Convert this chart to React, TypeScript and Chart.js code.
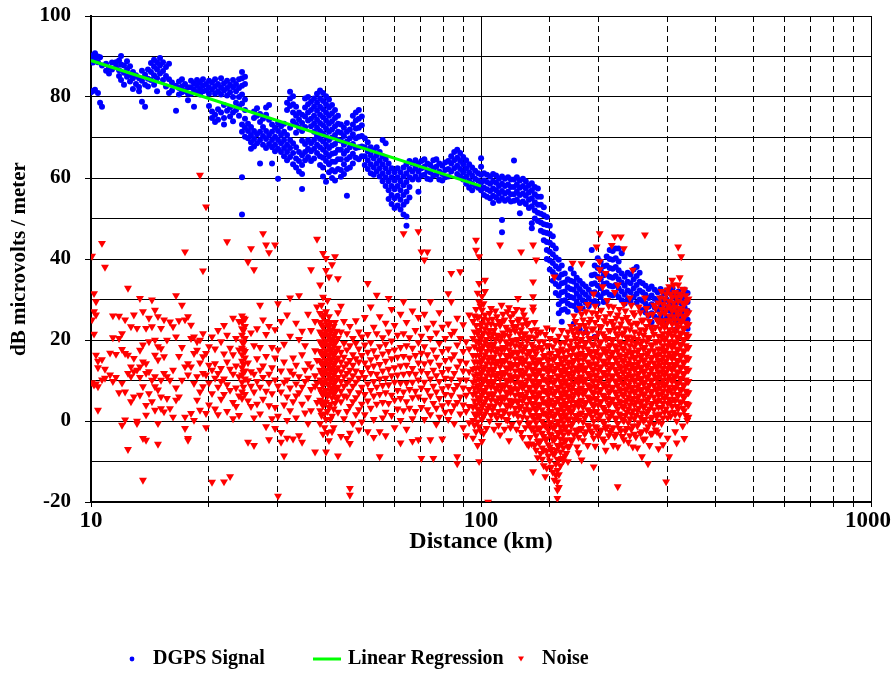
import { useEffect, useRef } from 'react';
import { Chart, registerables } from 'chart.js';

Chart.register(...registerables);

// ---- Data ----
// Each entry: [distance km, [dB values at that distance]]
const signalColumns: [number, number[]][] = [
  [10.0, [81.2, 89.2]], [10.12, [81.5, 90.3, 88.5]], [10.24, [81.8, 90.8, 89.5]], [10.42, [90, 88.6, 81]],
  [10.55, [78.6, 89.8]], [10.67, [77.6, 87.8]], [10.93, [88.2, 86.5]], [11.12, [87.2, 85.8]],
  [11.32, [88.5, 86.8]], [11.59, [87.5, 88.6]], [11.8, [89, 86.6, 85.2]], [11.94, [90.1, 88, 84.2]],
  [12.15, [87.8, 86, 83]], [12.37, [88.8, 86.8, 85]], [12.59, [87.6, 85.5, 83.8]], [12.81, [86.2, 84.6, 82]],
  [13.04, [85.4, 83.2]], [13.28, [84.6, 82.5, 81.4]], [13.51, [86.5, 84, 78.8]], [13.76, [85.5, 83, 77.6]],
  [14.0, [86.8, 84.5, 82.6]], [14.25, [88.4, 86.2, 84.2]], [14.51, [89.2, 87.5, 85.4, 83]], [14.77, [88.6, 86.8, 84.6, 81.4]],
  [15.03, [89.6, 87.8, 85.8]], [15.3, [88.6, 86.4, 84.2]], [15.57, [87.4, 85.2, 82.6]], [15.85, [88.2, 84.4, 81]],
  [16.13, [83.6, 81.6]], [16.52, [76.6, 82.8]], [16.81, [83.8, 82.2, 80.6]], [17.11, [84.4, 82.6, 81.2]],
  [17.42, [83.2, 81.5]], [17.73, [82.4, 80.8, 79.2]], [18.05, [84, 82.4, 80.8]], [18.37, [83.4, 81.8, 77.6]],
  [18.7, [84.2, 82.8, 81.2]], [19.03, [83.6, 82, 80.6]], [19.37, [84.4, 82.8, 81.4]], [19.72, [83.2, 81.6]],
  [20.07, [84, 82.4, 80.8, 77.8]], [20.43, [83.6, 81.8, 76.4, 74.8]], [20.8, [84.4, 82.6, 80.8, 75.6, 73.8]],
  [21.17, [83.2, 81.4, 77, 74.4]], [21.55, [84.6, 82.4, 80.6, 76.2]], [21.93, [83.4, 81.6, 78, 74.8, 73.2]],
  [22.33, [84, 82.2, 80.4, 76.6]], [22.73, [83, 81.2, 77.4, 75.2]], [23.13, [84.2, 82.4, 80, 76.2, 74]],
  [23.54, [83.2, 81.4, 78.6, 76.8]], [23.96, [84.4, 82.2, 80, 77.6, 75.4]],
  [24.39, [86.2, 84.6, 82.8, 80.6, 78.4, 73.2, 71.4, 60.2, 51]], [24.82, [85, 83.2, 79.4, 76.8, 74.6, 72.4, 70.2]],
  [25.27, [73.4, 71.6, 69.8]], [25.72, [72.6, 70.6, 68.8, 67.2]], [26.18, [76.4, 74.8, 71.6, 69.6, 67.8]],
  [26.65, [77.2, 75.4, 70.8, 68.6]], [27.13, [75.8, 73.8, 71.4, 69.4, 63.6]], [27.61, [74.6, 72.6, 70.4, 68.2]],
  [28.11, [77.4, 75.6, 71.6, 69.6, 67.4]], [28.61, [78, 74.4, 70.6, 68.4]], [29.12, [73.2, 71.4, 69.4, 67.6, 63.6]],
  [29.64, [72.4, 70.2, 68.2, 66.6]], [30.17, [73.6, 71.6, 69.4, 67.2, 59.8]], [30.71, [72.8, 70.6, 68.6, 66.4]],
  [31.26, [73.4, 71.4, 69.4, 67.4, 65.4]], [31.82, [78.6, 76.8, 70.6, 68.2, 66.4, 64.4]],
  [32.39, [81.3, 79.6, 77.8, 72.4, 69.4, 67.4, 65.2]], [32.97, [80.2, 78.2, 76.2, 74, 68.6, 66.2, 63.4]],
  [33.56, [77.6, 75.4, 73.2, 71.2, 67.6, 64.8, 62.6]], [34.15, [76.2, 74.4, 72.4, 66.4, 64.2, 61.6]],
  [34.77, [75.6, 73.6, 71.6, 69.2, 65.6, 63.2, 61, 57.3]], [35.39, [79.6, 77.4, 75.2, 72.6, 68.4, 66.4, 64.4]],
  [36.02, [80, 78.2, 76.2, 74.2, 69.4, 67.2, 65.2]], [36.66, [78.8, 76.8, 74.6, 72.8, 68.6, 66.6, 64.2]],
  [37.32, [79.6, 77.6, 75.4, 73.4, 71.4, 69.4, 67.2, 64.8]], [37.98, [80.8, 78.6, 76.6, 74.4, 72.4, 70.4, 68.2, 66.2]],
  [38.66, [81.6, 79.6, 77.6, 75.6, 73.6, 71.6, 69.6, 67.6, 65.4, 63.2]],
  [39.35, [81, 79, 77, 75, 73, 71, 69, 67, 65, 62.6, 60.4]],
  [40.05, [80.2, 78.2, 76.2, 74.2, 72.2, 70.2, 68.2, 66.2, 64.2, 59.1]],
  [40.76, [79.4, 77.4, 75.4, 73.4, 71.4, 69.4, 67.4, 65.4, 63.4, 61.4]],
  [41.49, [78, 76, 74, 72, 70, 68, 66, 64, 62, 60]], [42.23, [76.8, 74.8, 72.8, 70.6, 68.4, 66.2, 64, 61.6, 59.4]],
  [42.98, [75.4, 73.4, 71.4, 69.4, 67, 64.6, 62.2]], [43.74, [73.2, 71.2, 69.2, 67, 64.6, 62, 60.3]],
  [44.52, [72.4, 70.4, 68.2, 66, 63.4, 61]], [45.31, [73.6, 71.4, 69, 66.8, 64.6, 62.2, 55.6]],
  [46.11, [72, 69.8, 67.6, 65.2, 62.6]], [46.93, [75.4, 73.2, 70.8, 68.4, 66, 63.6]],
  [47.76, [76.2, 74.2, 72.2, 69.8, 67.4, 65]], [48.61, [76.8, 74.6, 72.4, 70.2, 67.6, 64.6]],
  [49.47, [75.2, 73, 70.4, 67.8, 65.4]], [50.35, [69.8, 67.6, 65.4, 63.2]], [51.24, [68.8, 66.6, 64.4, 62.2]],
  [52.15, [67.6, 65.6, 63.4, 61.2]], [53.08, [66.8, 64.8, 62.6, 60.8]], [54.02, [67.6, 65.6, 63.6, 61.6]],
  [54.98, [66.4, 64.4, 62.4, 60.4]], [55.95, [69.4, 65.4, 63.4, 61.2, 59.2]], [56.95, [68.6, 64.6, 62.4, 60.2, 58]],
  [57.96, [63.6, 61.4, 59.2, 57, 54.8]], [58.99, [62.4, 60.2, 58, 55.8, 53.6]], [60.03, [61.4, 59.4, 57.2, 55, 52.6]],
  [61.1, [62.4, 60.2, 58, 55.6, 53.2]], [62.18, [61.4, 59.2, 57, 54.6, 52.2]], [63.29, [62.6, 60.4, 58.2, 55.8, 53.4, 51]],
  [64.41, [63.4, 61.2, 59, 56.6, 54.2, 50.5, 48.2]], [65.55, [64.2, 62.2, 60.2, 57.8, 55.2]], [66.72, [63.6, 61.6, 59.6]],
  [67.9, [64.4, 62.4, 60.4]], [69.11, [63.6, 61.6, 59.6, 56.6]], [70.34, [64.2, 62.4, 60.6]], [71.59, [64.6, 62.8, 60.8]],
  [72.86, [63.6, 61.8, 59.8]], [74.15, [63.2, 61.4, 59.6]], [75.47, [64.4, 62.4, 60.6]], [76.81, [64.6, 62.8, 60.8]],
  [78.18, [63.6, 61.6, 59.6]], [79.57, [63, 61, 59.4]], [80.98, [63.8, 62, 60.2]], [82.42, [64.2, 62.2, 60.4]],
  [83.88, [65.4, 63.6, 61.6]], [85.38, [66.4, 64.4, 62.4]], [86.89, [67, 65, 63, 61]], [88.44, [66.2, 64.2, 62.2, 60.4]],
  [90.01, [65.2, 63.4, 61.4, 59.6]], [91.61, [64.4, 62.4, 60.4, 58.6]], [93.24, [63.4, 61.4, 59.4, 57.6]],
  [94.9, [62.6, 60.6, 58.6, 57]], [96.58, [61.8, 59.8, 58]], [98.3, [61.2, 59.4, 57.6]],
  [100.05, [64.9, 62.8, 60.8, 58.8, 57]], [101.8, [61.2, 59.4, 57.6, 55.8]], [103.6, [60.8, 59, 57.2, 55.4]],
  [105.5, [60.4, 58.6, 56.8, 55]], [107.4, [61, 59.2, 57.4, 55.6, 53.8]], [109.3, [60.6, 58.8, 57, 55.2]],
  [111.2, [59.8, 58, 56.2, 54.4]], [113.2, [60.4, 58.6, 56.8, 55, 49.6, 46.6]], [115.2, [59.8, 58, 56.2, 54.4]],
  [117.3, [60.2, 58.4, 56.6, 54.8]], [119.3, [59.6, 57.8, 56, 54.2]], [121.5, [64.3, 59.6, 57.8, 56, 54.4]],
  [123.6, [60.2, 58.4, 56.6, 54.6]], [125.8, [59.4, 57.6, 55.8, 53.8, 51.3]], [128.1, [59.8, 58, 56.2, 54.2]],
  [130.3, [59.2, 57.4, 55.6, 53.6]], [132.7, [58.2, 56.4, 54.6, 52.6]], [135, [58.7, 57, 55, 53, 48.8, 47.6]],
  [137.4, [57.8, 56, 54, 52, 50]], [139.9, [57.4, 55.4, 53.4, 51.4, 49.4]], [142.4, [55.4, 53.4, 51.2, 49, 47]],
  [144.9, [52.8, 50.8, 48.6, 46.6, 44.6]], [147.5, [50.4, 48.4, 46.4, 44.2, 42.2, 40]],
  [150.1, [48.2, 46.2, 44, 41.8, 39.6, 37.4]], [152.8, [45.6, 43.4, 41.2, 39, 36.8, 34.6]],
  [155.5, [42.6, 40.4, 38.2, 36, 33.8, 31.6]], [158.3, [39.8, 37.6, 35.4, 33.2, 31, 28.8, 26.6]],
  [161.1, [38.4, 36.2, 34, 31.8, 29.6, 27.4, 24.5]], [164, [36.4, 34.2, 32, 29.8, 27.6]], [166.9, [35, 33, 31, 29, 27]],
  [169.9, [37.6, 34.6, 32.6, 30.6, 28.6]], [172.9, [36.4, 34.4, 32.4, 30.4, 28.4, 24]], [176, [35.4, 33.4, 31.4, 29.4, 27.4]],
  [179.1, [34.6, 32.6, 30.6, 28.6, 22.6]], [182.3, [33.8, 31.8, 29.8, 27.8]], [185.6, [33.2, 31.2, 29.2, 22]],
  [188.9, [32.4, 30.4, 28.4]], [192.3, [42.2, 36, 33.8, 31.6, 29.4]], [195.7, [38.4, 36.2, 34, 31.8, 29.6, 20.8]],
  [199.2, [40.2, 37.8, 35.6, 33.4, 31.2, 29]], [202.7, [39.4, 37.2, 35, 32.8, 30.6]], [206.3, [38.2, 36, 33.8, 31.6, 29.4]],
  [210, [40.6, 38.4, 36.2, 34, 31.8, 29.6]], [213.8, [42.2, 40, 37.8, 35.6, 33.4, 31.2]], [217.6, [42, 39.8, 37.6, 35.4, 33.2, 31]],
  [221.5, [42.6, 40.2, 38, 35.8, 33.6, 31.4]], [225.4, [42.6, 39.4, 37.2, 35, 32.8, 30.6]], [229.5, [41.4, 36.4, 34.2, 32, 29.8]],
  [233.6, [35.6, 33.4, 31.2, 29]], [237.7, [36.6, 34.4, 32.2, 30]], [241.9, [36.2, 34, 31.8, 29.6]], [246.3, [37.4, 35, 32.8, 30.6]],
  [250.7, [38, 35.8, 33.6, 31.4, 29.2]], [255.1, [36.6, 34.4, 32.2, 30]], [259.7, [34, 31.8, 29.6, 27.4]],
  [264.3, [33.4, 31.2, 29, 26.8]], [269, [32.6, 30.4, 28.2, 26]], [273.8, [33.2, 31, 28.8, 26.6, 24.4]],
  [278.7, [32.4, 30.2, 28, 25.8]], [283.7, [31.8, 29.6, 27.4, 25.2]], [288.7, [32.6, 30.4, 28.2, 26]],
  [293.9, [31.4, 29.2, 27, 24.8]], [299.1, [32.2, 30, 27.8, 25.6]], [304.5, [31.6, 29.4, 27.2, 25]],
  [309.9, [32.8, 30.6, 28.4, 26.2]], [315.4, [31.4, 29.2, 27, 24.8, 22.6]], [321, [32, 29.8, 27.6, 25.4]],
  [326.8, [31.2, 29, 26.8, 24.6]], [332.6, [32.4, 30.2, 28, 25.8]], [338.6, [31.6, 29.4, 27.2, 25, 22.8]],
];

const noiseColumns: [number, number[]][] = [
  [10.06, [40.7, 25, 9.5]], [10.18, [31.5, 27, 8.9, 21.5]], [10.3, [29.5, 26.2, 9.2, 16.3]], [10.42, [13.2, 8.5, 2.7, 14.8]],
  [10.67, [43.9, 15.2, 10.2]], [10.86, [38, 10.6, 12.8]], [11.19, [11.4, 16.8]], [11.38, [26, 20.6, 9.8]],
  [11.59, [16.5, 10.8]], [11.8, [20.4, 25.9, 7]], [12.01, [17.7, 21.6, 9.4, -1]], [12.23, [25, 16.7, 7.2, 0.3]],
  [12.44, [32.8, 16.3, 11.8, -7]], [12.66, [23.3, 11, 4.8, 13.4]], [12.88, [26.2, 15.5, 6, 12.2]], [13.12, [22.9, 12.6, 0, -0.6]],
  [13.35, [30.3, 13.4, 10.8, 6.4, 17.5]], [13.59, [27, 18.8, 14.6, 8.5, -4.3, -14.6]], [13.84, [22.9, 14.2, 11.8, 3.9, 1.5, -4.7]],
  [14.08, [25.4, 19.6, 12.2, 6.8]], [14.33, [29.9, 23.3, 10.1, 4.8]], [14.59, [27.4, 20, 16.3, 11, 8.5, 2.7]],
  [14.85, [25.8, 18.4, 15.1, 7.7, -0.6, -5.7]], [15.12, [22.9, 17.9, 10.1, 6, 3.1]], [15.39, [25, 15.9, 11.8, 2.3]],
  [15.66, [20, 11, 5.6]], [15.94, [24.5, 10.1, 3.1]], [16.23, [23.3, 12.6, 1]], [16.52, [31, 20.8, 8.2, 5.2]],
  [16.81, [24.8, 16, 6]], [17.11, [28.6, 18.2, 10.1]], [17.42, [41.8, 25, 13.4, 1, -1.8]], [17.73, [25.8, 14.2, 11.4, -4.7, -4.3]],
  [18.05, [23.7, 20.4, 13.4, 1.9]], [18.37, [20.8, 16.7, 9.3, 0.2]], [18.7, [19.6, 17.5, 5.2, 11]], [19.03, [60.7, 20, 14.4, 7.2, 2.7]],
  [19.37, [37.1, 21.6, 15.9, 8.5, 11.8]], [19.72, [52.9, 16.7, 11.4, 1.9, -1.6]], [20.07, [18.4, 13.8, 9.4, 4]],
  [20.43, [20.8, 12.6, 6.8, -15.1]], [20.8, [17.8, 14.2, 10.6, 3]], [21.17, [22.4, 11.8, 8.4, 1.6]], [21.55, [19.6, 13, 9.8, 5.4]],
  [21.93, [23.6, 16.6, 10.4, 6.6, -15]], [22.33, [44.3, 21.2, 14.6, 9, 2.4]], [22.73, [18, 12.8, 7.6, -13.7]],
  [23.13, [25.4, 16.4, 11.6, 4.6, 0.6]], [23.54, [20.4, 13.6, 8.2, 3.6]], [23.96, [24.6, 17.6, 11, 6.2, 1.4]],
  [24.39, [26, 24.4, 22.8, 21.2, 19.6, 18, 16.4, 14.8, 13.2, 11.4, 9.6, 7.2, 5.6]], [24.82, [25.2, 23.4, 20.4, 17.2, 15.6, 12.4, 10.4, 6.6]],
  [25.27, [39.3, 14.4, 10, 5, -5.2]], [25.72, [42.6, 21.8, 12.2, 8.6, 3.6]], [26.18, [37.4, 18.6, 11.6, 7.2, 0.8, -6]],
  [26.65, [22.8, 15.4, 9.8, 4.2]], [27.13, [28.6, 18.2, 12.6, 8.4, 1.8]], [27.61, [46.3, 25, 13.6, 10.8, 5.4]],
  [28.11, [43.5, 21.4, 16, 7.4, -1.4]], [28.61, [41.6, 23.4, 11.6, 9.4, 3.8, -4.6]], [29.12, [18.2, 13.2, 6.8, 0.6]],
  [29.64, [43.5, 22.6, 15.6, 10.2, 3.4, -1.8]], [30.17, [29, 17.6, 8.6, 1.2, -18.5]], [30.71, [24.6, 12.4, 7.2, -2.8, -5.2]],
  [31.26, [19, 14.6, 9.6, 4, -8.6]], [31.82, [26.2, 10.2, 6, 0.2, -4.2]], [32.39, [30.4, 21, 12.4, 8.2, 2.6]],
  [32.97, [15.6, 11.6, 4.8, -4.4]], [33.56, [24.2, 13.8, 9.2, 6.2, 0.8]], [34.15, [31, 20.2, 11, 7, -3.6]],
  [34.77, [22.2, 16.4, 8.4, 4.2, -5.2]], [35.39, [18.6, 12.6, 9.8, 2]], [36.02, [26.4, 14.2, 10.6, 5.8, -0.6]],
  [36.66, [37.4, 22.4, 13.4, 7.8, 2.6]], [37.54, [24.6, 17.4, 11.2, 8.6, -7.6]], [37.98, [44.9, 28.2, 15, 9.4, 4.6]],
  [38.66, [33.6, 26.6, 24.4, 22, 19.6, 17.2, 14.8, 12.6, 10.2, 7.8, 5.2, 2.6, -0.6]],
  [39.35, [41.4, 30.6, 25.6, 23.2, 20.8, 18.4, 16, 13.6, 11.2, 8.8, 6.4, 3.8, -3.2]],
  [40.05, [40.2, 37.2, 27, 24.6, 22.2, 19.8, 17.4, 15, 12.6, 10.2, 7.6, 4.6, 0.4, -7.6]],
  [40.76, [35.6, 25.8, 23.4, 21, 18.6, 16.2, 13.8, 11.4, 9, 6.6, 3.4, -4.8]],
  [41.49, [38.6, 22.6, 20.2, 17.8, 15.4, 13, 10.6, 8.2, 5.8, 1.2, -2.6]],
  [42.23, [40.6, 24.4, 21.6, 19.2, 16.8, 14.4, 12, 9.6, 7.2, 4.4]],
  [42.98, [35.2, 26.8, 20.4, 18, 15.6, 13.2, 10.8, 8.4, 6, 2.2, -8.6]],
  [43.74, [28.4, 22, 17, 14.6, 12.2, 9.8, 7.4, 4.8, -3.8]], [44.52, [24.6, 19.2, 15.8, 13.4, 11, 8.6, 6.2, 0.6]],
  [45.31, [21.6, 17.6, 14.2, 11.8, 9.4, 6, 2.4, -4.3]], [46.11, [23.4, 18.6, 15, 12.6, 10.2, 7.4, 3.6, -3, -5.5, -16.6, -18.3]],
  [46.93, [20.4, 16.4, 13.8, 11.2, 8.6, 4.8, -0.6]], [47.76, [24.8, 19.2, 15.4, 12.4, 9.6, 5.8, 1.6]],
  [48.61, [22, 17.8, 14.6, 10.6, 7, 2.8, -2.2]], [49.47, [20.8, 16.2, 12, 8.4, 4.2, -0.2]], [50.35, [25.6, 18.8, 14.4, 10.8, 6.6, 1.6]],
  [51.24, [34, 21.4, 17, 13.2, 9.2, 5, -2.6]], [52.15, [28.2, 19.4, 15.2, 11.8, 7.6, 3.2]], [53.08, [23.2, 17.4, 13.6, 9.8, 6.2, 0.4, -4]],
  [54.02, [31.1, 21.6, 15.8, 11.6, 8.4, 4.2]], [54.98, [25.8, 18.4, 14, 10.4, 6.6, -2.6, -8.8]], [55.95, [20.6, 16.6, 12.4, 8.8, 4.6, 0.8]],
  [56.95, [24.2, 19, 14.8, 10.6, 7, 2.2, -3.6]], [57.96, [30.3, 22, 17.2, 12.8, 9, 4.4]], [58.99, [27.6, 19.8, 15.4, 11.2, 6.4, 1.4]],
  [60.03, [23.6, 17.6, 13.2, 9.6, 5.2, -1.6]], [61.1, [21.2, 15.8, 11.4, 7.6, 3]], [62.18, [26.4, 18.2, 13.6, 9.4, 5.6, 0.2, -5.4]],
  [63.29, [46.3, 29.5, 21.6, 16, 11.6, 7.2, 2.6]], [64.41, [24.4, 18.6, 13.8, 9.4, 4.8, -2]], [65.55, [20.6, 15.6, 11.8, 7.8, 3.2]],
  [66.72, [27.2, 18, 13, 9.6, 5.8, 0.6, -5]], [67.9, [22.4, 16.2, 11.6, 7.4, 2.4]], [69.11, [46.8, 25.6, 19.4, 14.4, 10.2, 6, -4.6]],
  [70.34, [41.8, 21, 16.8, 12.4, 8.2, 3.4, -9.2]], [71.59, [39.8, 26.4, 18.4, 14.2, 9.6, 5.2, 0.4]], [72.86, [41.8, 23, 16.4, 11.8, 7.6, 2.8]],
  [74.15, [29.5, 20.4, 14.6, 10.4, 6.2, 1.6, -4.6]], [75.47, [24.2, 17.6, 12.6, 8.6, 4.4, -9.2]], [76.81, [21.8, 15.8, 11.2, 7.2, 3.2, -0.8]],
  [78.18, [26.8, 19.2, 13.8, 9.8, 5.6, 1]], [79.57, [23.2, 17.2, 12, 8, 3.8, -4.4]], [80.98, [20.4, 15, 10.6, 6.6, 2.2]],
  [82.42, [31.5, 24, 17.8, 12.8, 8.6, 4.6, 0.4]], [83.88, [36.5, 29.5, 21.4, 15.4, 10.4, 6.4, 2.4]], [85.38, [22.2, 16.4, 11.8, 7.8, 3.8, -0.6]],
  [86.89, [25.4, 18.8, 13.4, 8.8, 4.6, -8.8, -10.5]], [88.44, [36.9, 20.4, 14.8, 10.2, 6, 1.8]], [90.01, [23.8, 17.2, 12.4, 8.2, 4, -1.6]],
  [91.61, [19.6, 14.4, 10.2, 6.4, 2.4, -3.6]], [93.24, [26.2, 17.8, 12.2, 7.8, 3.6, -0.4]],
  [95.4, [24.6, 20.4, 16.2, 12.8, 9.6, 6.6, 3.4, 0.2, -4.2]],
  [97.1, [44.7, 42.2, 27.6, 23.6, 19.8, 16.2, 13, 10, 7, 4, 1.2, -2.6]],
  [98.9, [40.6, 34, 29.4, 25.8, 22.4, 19.2, 16.2, 13.2, 10.4, 7.6, 4.8, 1.8, -1.4, -10]],
  [100.6, [30.8, 27.4, 24.2, 21, 18, 15, 12, 9.2, 6.4, 3.6, 0.4, -5]],
  [102.4, [34.8, 32, 26.2, 22.8, 19.6, 16.4, 13.4, 10.4, 7.6, 4.8, 1.8]],
  [104.3, [25, 21.6, 18.4, 15.2, 12.2, 9.4, 6.6, 3.2, -20]],
  [106.1, [27.8, 24, 20.6, 17.4, 14.2, 11.2, 8.4, 5.2, 1.4]], [108.0, [22.4, 19, 15.8, 12.8, 9.8, 6.8, 3.6, -2]],
  [109.9, [25.8, 21.2, 17.8, 14.6, 11.4, 8.2, 5, 0.8]], [111.9, [43.5, 23.6, 19.8, 16.4, 13.4, 10.4, 7.4, 4.2, -3.4]],
  [113.9, [26.4, 21.8, 18.2, 15, 12, 9, 6, 2.6]], [115.9, [23.2, 19.6, 16.2, 13.2, 10.2, 7.2, 4, 0.4]],
  [118.0, [28, 21, 17.6, 14.4, 11.4, 8.4, 5.2, 1.8, -4.8]], [120.1, [24.4, 19.8, 16.6, 13.6, 10.6, 7.6, 4.6, -0.8]],
  [122.3, [22.2, 18.6, 15.4, 12.4, 9.4, 6.4, 3.2]], [124.4, [30.3, 24.8, 20.2, 16.8, 13.8, 10.8, 7.8, 4.6, 1.2]],
  [126.7, [41.8, 22.6, 19, 15.6, 12.6, 9.6, 6.6, 3.6, -2.8]], [128.9, [26.2, 21.4, 17.8, 14.6, 11.6, 8.6, 5.6, 2.2]],
  [131.2, [23.8, 19.8, 16.4, 13.2, 10.2, 7.2, 4.2, 0.8, -5.6]],
  [133.6, [20.8, 17, 13.8, 11, 8.2, 5.4, 2.6, -0.4, -4]],
  [136.0, [43.5, 34.4, 30.7, 28.2, 27.4, 18.4, 15.4, 12.6, 9.8, 7, 4.2, 1.4, -1.6, -12.5]],
  [138.5, [39.8, 22.6, 16.6, 13.8, 11, 8.2, 5.4, 2.6, -0.4, -3.6, -7.2]],
  [141.0, [19.6, 15, 12.2, 9.4, 6.6, 3.8, 1, -2, -5.4]], [143.5, [17.6, 14, 11.2, 8.4, 5.6, 2.8, 0, -3, -6.6, -9.4]],
  [146.1, [21.4, 16.2, 13, 10.2, 7.4, 4.6, 1.8, -1.2, -4.4, -13.7]], [148.8, [18.6, 14.8, 12, 9.2, 6.4, 3.6, 0.8, -2.2, -5.8, -8.6]],
  [151.4, [16.8, 13.6, 10.8, 8, 5.2, 2.4, -0.4, -3.4, -7, -11.4]],
  [154.2, [35.6, 20, 15.4, 12.4, 9.6, 6.8, 4, 1.2, -1.6, -4.6, -8.2, -14.6]],
  [157.0, [17.4, 14, 11.2, 8.4, 5.6, 2.8, 0, -2.8, -6, -9.4, -12.2, -15, -17, -19.1]],
  [159.8, [19.2, 15.6, 12.6, 9.8, 7, 4.2, 1.4, -1.4, -4.4, -7.6, -11]],
  [162.7, [17, 13.6, 10.8, 8, 5.2, 2.4, -0.4, -3.4, -6.6, -9.8]],
  [165.6, [20.6, 15.8, 12.8, 10, 7.2, 4.4, 1.6, -1.4, -4.6, -8]],
  [168.6, [18.6, 14.6, 11.8, 9, 6.2, 3.4, 0.6, -2.6, -6.2]],
  [171.7, [39, 22.4, 17.6, 14.2, 11.2, 8.4, 5.6, 2.6, -0.6, -4.6]], [174.8, [24.6, 20.4, 16.4, 13.2, 10.4, 7.6, 4.6, 1.4, -2.2]],
  [177.9, [21.8, 18.2, 15, 12.2, 9.4, 6.6, 3.6, 0.2, -4, -7.8]], [181.1, [38.9, 26.4, 20.2, 16.8, 13.8, 11, 8.2, 5.2, 2, -1.8, -9.6]],
  [184.4, [23.6, 19.2, 15.8, 12.8, 10, 7.2, 4.2, 0.8, -3.2]], [187.7, [28.8, 21.6, 17.8, 14.6, 11.8, 9, 6, 2.8, -1, -6]],
  [191.0, [25.2, 20.4, 16.8, 13.8, 11, 8.2, 5.2, 2, -2.4]], [194.5, [31.4, 22.8, 18.8, 15.6, 12.6, 9.8, 6.8, 3.6, 0, -4.2, -11.3]],
  [197.9, [43, 26.6, 20.8, 17.2, 14.2, 11.4, 8.6, 5.6, 2.4, -1.6]],
  [201.5, [46.3, 39.4, 37.4, 35.2, 23.4, 19.4, 16.2, 13.4, 10.6, 7.8, 4.8, 1.4, -3]],
  [205.1, [33.2, 21.6, 17.8, 14.8, 12, 9.2, 6.4, 3.4, 0, -4.4]], [208.8, [36.5, 25.8, 20.2, 16.8, 14, 11.2, 8.4, 5.4, 2.2, -1.8, -7.2]],
  [212.6, [28.4, 22.4, 18.4, 15.4, 12.6, 9.8, 7, 4, 0.6, -3.6]], [216.4, [43.4, 24.6, 20, 16.6, 13.8, 11, 8.2, 5.2, 2, -2.2]],
  [220.3, [45.5, 31.8, 22.8, 18.6, 15.6, 12.8, 10, 7.2, 4.2, 0.8, -3.8]],
  [224.2, [33.6, 26.2, 21, 17.4, 14.4, 11.6, 8.8, 6, 3, -0.6, -6.4, -16.2]],
  [228.3, [45.5, 24, 19.2, 16, 13.2, 10.4, 7.6, 4.6, 1.4, -2.4]], [232.4, [42.6, 28.8, 21.8, 17.8, 14.8, 12, 9.2, 6.4, 3.4, 0, -4.6]],
  [236.6, [25.6, 20.4, 16.6, 13.6, 10.8, 8, 5.2, 2.2, -1.8]], [240.8, [30.4, 22.6, 18.6, 15.4, 12.6, 9.8, 7, 4, 0.6, -3.6]],
  [245.1, [37.3, 26.8, 20.6, 17, 14, 11.2, 8.4, 5.6, 2.6, -1.2, -6.4]], [249.5, [24.2, 19.2, 15.8, 13, 10.2, 7.4, 4.6, 1.4, -3.9]],
  [254.0, [28.2, 21.6, 17.6, 14.6, 11.8, 9, 6.2, 3.2, -0.4]], [258.6, [24.8, 19.8, 16.2, 13.4, 10.6, 7.8, 5, 2, -2.6, -8.8]],
  [263.2, [46, 30.4, 22.4, 18.2, 15.2, 12.4, 9.6, 6.8, 3.8, 0.4, -4.4]], [268.0, [26.2, 20.6, 16.8, 13.8, 11, 8.2, 5.4, 2.4, -1.4, -10.5]],
  [272.8, [23.2, 18.8, 15.4, 12.6, 9.8, 7, 4, 0.6, -3.2]], [277.7, [28.6, 21.4, 17.4, 14.4, 11.6, 8.8, 6, 2.8, -0.8]],
  [282.7, [25, 19.6, 16, 13.2, 10.4, 7.6, 4.6, 1.2, -2.6]],
  [287.8, [30.4, 26.4, 22.8, 19.6, 16.6, 13.8, 11, 8.2, 5.2, 1.8, -3.4]],
  [293.0, [28.8, 24.8, 21.6, 18.6, 15.8, 13, 10.2, 7.4, 4.4, 0.8, -5.8]],
  [298.3, [31.4, 27.4, 23.8, 20.6, 17.6, 14.8, 12, 9.2, 6.2, 3, -15]],
  [303.7, [33.2, 29.6, 26, 22.6, 19.6, 16.8, 14, 11.2, 8.4, 5.4, 2, -8.8]],
  [309.1, [34.8, 30.6, 27.2, 24, 21, 18.2, 15.4, 12.6, 9.8, 6.8, 3.6]],
  [314.7, [31.8, 28.2, 25, 22, 19.2, 16.4, 13.6, 10.8, 8, 5, 1.6, -2.6]],
  [320.3, [43, 33.6, 29.6, 26.2, 23.2, 20.4, 17.6, 14.8, 12, 9.2, 6.2, 3]],
  [326.1, [40.6, 30.8, 27.4, 24.4, 21.6, 18.8, 16, 13.2, 10.4, 7.6, 4.6]],
  [332.0, [32.4, 28.8, 25.6, 22.8, 20, 17.2, 14.4, 11.6, 8.8, 5.8, 2.6, -4.3]],
  [338.0, [29.6, 26.6, 23.8, 21, 18.2, 15.4, 12.6, 9.8, 7, 4.2, 0.2]],
];

// Extra noise readings inside the densest bands (spikes at ~25, ~40 km and the 95-340 km block)
const noiseDenseColumns: [number, number[]][] = [
  [24.6, [25.4, 22.4, 19.2, 17.6, 14, 12, 8.4]],
  [39.0, [28.6, 23.8, 21.4, 19, 16.6, 14.2, 11.8, 9.4, 7, 4.4, 1.4]],
  [39.7, [26.2, 21.6, 19.2, 16.8, 14.4, 12, 9.6, 7.2, 4.8, 1.8, -1.6]],
  [40.4, [29.8, 23.6, 21.2, 18.8, 16.4, 14, 11.6, 9.2, 6.2, 2.4, -2.8]],
  [41.1, [24.4, 22, 19.6, 17.2, 14.8, 12.4, 10, 7.4, 4.2, 0.4]],
  [41.9, [23.4, 21, 18.6, 16.2, 13.8, 11.4, 9, 6.6, 3, -1.6]],
  [42.6, [22.2, 19.8, 17.4, 15, 12.6, 10.2, 7.8, 5.4]],
  [96.2, [26, 22, 18.4, 14.6, 11.2, 8.2, 5, 1.8, -1]],
  [98.0, [31.6, 25.6, 21.6, 17.8, 14.6, 11.6, 8.6, 5.8, 3, -0.2, -6]],
  [99.7, [28.4, 23.6, 20.4, 17.4, 14.4, 11.6, 8.8, 5.8, 2.6, -2.4]],
  [101.5, [29, 25.2, 21.8, 18.6, 15.6, 12.8, 10, 7.2, 4.2, 1.2, -3]],
  [103.3, [23.8, 20.2, 17.2, 14.2, 11.2, 8.4, 5.6, 2.6, -1.8]],
  [105.2, [26.6, 22.4, 19, 15.8, 12.8, 9.8, 6.8, 3.8, 0]],
  [107.0, [25.2, 21.4, 18.2, 15.2, 12.2, 9.2, 6.2, 2.8]],
  [108.9, [27.2, 23.6, 20.2, 17, 14, 11, 8, 5, 1.6]],
  [110.9, [24.6, 21, 17.8, 14.8, 11.8, 8.8, 5.8, 2.4, -1]],
  [112.9, [28.6, 24.4, 20.8, 17.6, 14.4, 11.4, 8.4, 5.2, 1.2]],
  [114.9, [25, 21.2, 17.8, 14.8, 11.6, 8.6, 5.6, 2.2, -2]],
  [116.9, [27, 22.6, 19, 15.8, 12.8, 9.8, 6.8, 3.6, 0.2]],
  [119.0, [25.8, 22.2, 19, 16, 13, 10, 7, 3.8, -1.6]],
  [121.2, [26.6, 23.2, 20, 17, 14, 11, 8, 5, 1.8]],
  [123.3, [27.6, 23.4, 20, 17, 14, 11, 8, 5, 2, -2]],
  [125.5, [25.2, 21.6, 18.4, 15.2, 12.2, 9.2, 6.2, 3.2, -0.4]],
  [127.8, [27.4, 23.8, 20.4, 17.2, 14.2, 11.2, 8.2, 5, 1, -4]],
  [130.0, [25, 21.6, 18.4, 15.2, 12.2, 9.2, 6.2, 3, -1.6]],
  [132.4, [24.2, 20.4, 17.2, 14.2, 11.2, 8.4, 5.6, 2.8, -0.8, -6]],
  [134.8, [22.4, 19, 15.8, 12.8, 10, 7.2, 4.4, 1.4, -2, -5.6]],
  [137.2, [24.4, 20.6, 17.4, 14.4, 11.6, 8.8, 6, 3.2, 0.4, -2.6, -6]],
  [139.7, [21.4, 18, 15, 12.4, 9.6, 6.8, 4, 1.2, -1.8, -5, -9]],
  [142.2, [22, 18.2, 15.2, 12.6, 9.8, 7, 4.2, 1.4, -1.6, -4.8, -8]],
  [144.8, [19.6, 16, 13.2, 10.4, 7.6, 4.8, 2, -0.8, -3.8, -7.2, -11]],
  [147.4, [23, 18.6, 15.4, 12.6, 9.8, 7, 4.2, 1.4, -1.4, -4.4, -7.4, -11.6]],
  [150.1, [20.4, 16.6, 13.6, 10.8, 8, 5.2, 2.4, -0.4, -3.2, -6.4, -9.8]],
  [152.8, [22.6, 18.4, 15.2, 12.4, 9.6, 6.8, 4, 1.2, -1.6, -4.6, -8, -12.6]],
  [155.6, [19.8, 16, 13, 10.2, 7.4, 4.6, 1.8, -1, -4, -7.2, -10.6, -13.4]],
  [158.4, [21, 16.8, 13.8, 11, 8.2, 5.4, 2.6, -0.2, -3, -6.2, -9.6, -13.2, -16.4]],
  [161.2, [22.4, 17.8, 14.6, 11.8, 9, 6.2, 3.4, 0.6, -2.4, -5.6, -9.2]],
  [164.1, [19.4, 15.4, 12.4, 9.6, 6.8, 4, 1.2, -1.8, -5, -8.6]],
  [167.1, [22, 17.4, 14.2, 11.4, 8.6, 5.8, 3, 0.2, -2.8, -6.4, -10]],
  [170.1, [23.4, 19.8, 16.2, 13.2, 10.4, 7.6, 4.8, 2, -1.2, -4.8]],
  [173.2, [26, 21.4, 18, 15, 12.2, 9.4, 6.6, 3.6, 0.4, -3.4]],
  [176.3, [22.8, 19, 15.8, 12.8, 10, 7.2, 4.2, 1, -2.8, -6.4]],
  [179.5, [27.8, 23.6, 19.8, 16.6, 13.6, 10.8, 8, 5, 1.8, -2]],
  [182.7, [25, 21.6, 18.2, 15.2, 12.4, 9.6, 6.6, 3.4, -0.2, -4.8]],
  [186.0, [27, 22.8, 19.4, 16.2, 13.2, 10.4, 7.6, 4.6, 1.4, -2.6]],
  [189.3, [24.4, 20.4, 17.2, 14.2, 11.4, 8.6, 5.6, 2.4, -1.4]],
  [192.7, [26.8, 22.6, 19, 15.8, 12.8, 10, 7.2, 4.2, 1, -3]],
  [196.2, [28.4, 24.4, 20.4, 17, 14, 11.2, 8.4, 5.4, 2.2, -1.4, -6.2]],
  [199.7, [25.6, 21.8, 18.4, 15.4, 12.6, 9.8, 7, 4, 0.6, -3.6]],
  [203.3, [27.4, 23.2, 19.6, 16.4, 13.4, 10.6, 7.8, 4.8, 1.6, -2.2]],
  [206.9, [24.8, 21, 17.8, 14.8, 12, 9.2, 6.2, 3, -0.6, -5]],
  [210.7, [29.8, 24.2, 20.4, 17.2, 14.2, 11.4, 8.6, 5.6, 2.4, -1.4]],
  [214.5, [26.6, 22.4, 18.8, 15.8, 13, 10.2, 7.4, 4.4, 1.2, -2.8]],
  [218.3, [28.2, 23.8, 20.2, 17, 14, 11.2, 8.4, 5.4, 2.2, -1.6, -6]],
  [222.2, [25.4, 21.6, 18.2, 15.2, 12.4, 9.6, 6.8, 3.8, 0.6, -3.2]],
  [226.2, [27.6, 23, 19.6, 16.4, 13.6, 10.8, 8, 5, 1.8, -1.8]],
  [230.3, [25.2, 21.4, 18, 15, 12.2, 9.4, 6.6, 3.6, 0.4, -3.8]],
  [234.5, [27.2, 22.8, 19.2, 16, 13.2, 10.4, 7.6, 4.6, 1.4, -2.4]],
  [238.7, [24.6, 20.8, 17.4, 14.4, 11.6, 8.8, 6, 3, -0.4, -5.2]],
  [242.9, [28.6, 23.8, 19.8, 16.6, 13.6, 10.8, 8, 5, 1.8, -2]],
  [247.3, [26.2, 22, 18.4, 15.4, 12.6, 9.8, 7, 4, 0.6, -3.2]],
  [251.7, [24, 20.2, 17, 14, 11.2, 8.4, 5.6, 2.6, -1.2, -6.6]],
  [256.3, [26.8, 22.6, 19, 15.8, 13, 10.2, 7.4, 4.4, 1, -3]],
  [260.9, [25, 21.2, 17.8, 14.8, 12, 9.2, 6.4, 3.4, 0, -4.6]],
  [265.6, [27.8, 23.4, 19.6, 16.4, 13.6, 10.8, 8, 5, 1.8, -2.2]],
  [270.4, [24.6, 20.6, 17.4, 14.4, 11.6, 8.8, 6, 3, -0.4, -6]],
  [275.2, [26.4, 22.4, 18.8, 15.8, 13, 10.2, 7.4, 4.4, 1, -3]],
  [280.2, [27.8, 23.2, 19.6, 16.4, 13.6, 10.8, 8, 5, 1.6, -2.2]],
  [285.2, [29.2, 24.4, 21, 17.8, 14.8, 12, 9.2, 6.4, 3.4, 0, -6.8]],
  [290.4, [32, 27.6, 24, 20.8, 17.8, 15, 12.2, 9.4, 6.6, 3.4, -0.6]],
  [295.6, [30.2, 26.6, 23.2, 20, 17, 14.2, 11.4, 8.6, 5.6, 2.2]],
  [301.0, [32.4, 28.4, 24.8, 21.6, 18.6, 15.8, 13, 10.2, 7.4, 4.4, 0.8, -4.2]],
  [306.4, [31.4, 28, 24.8, 21.8, 18.8, 16, 13.2, 10.4, 7.6, 4.6, 1.2]],
  [311.9, [33.6, 29.2, 25.8, 22.6, 19.6, 16.8, 14, 11.2, 8.4, 5.4, 2.2]],
  [317.5, [30.6, 27, 23.8, 20.8, 17.8, 15, 12.2, 9.4, 6.6, 3.6, 0, -5.4]],
  [323.2, [35.4, 31.4, 27.8, 24.8, 21.8, 19, 16.2, 13.4, 10.6, 7.8, 4.8, 1.6]],
  [329.0, [32.6, 29.2, 26, 23, 20.2, 17.4, 14.6, 11.8, 9, 6.2, 3.2, -1.2]],
  [335.0, [31, 27.2, 24.2, 21.4, 18.6, 15.8, 13, 10.2, 7.4, 4.4, 1.4]],
  [340.5, [30.2, 26.8, 23.8, 21, 18.2, 15.4, 12.6, 9.8, 7, 4, 1]],
];

const regressionX = [10, 100];
const regressionY = [89, 58];

const xLabelled = [10, 100, 1000];
const yMin = -20;
const yMax = 100;
const yStep = 10;

const seriesNames = ['DGPS Signal', 'Linear Regression', 'Noise'];

// ---- helpers ----
const FONT = '"Liberation Serif", "Times New Roman", serif';

function toPoints(cols: [number, number[]][]) {
  return cols.flatMap(([x, ys]) => ys.map((y) => ({ x, y })));
}

function isDecade(v: number) {
  const l = Math.log10(v);
  return Math.abs(l - Math.round(l)) < 1e-9;
}

// Draws the x tick labels (kept inside the canvas like the original) and the bottom legend.
const decorPlugin = {
  id: 'decor',
  afterDraw(chart: any) {
    const ctx = chart.ctx as CanvasRenderingContext2D;
    const xs = chart.scales.x;
    ctx.save();
    ctx.fillStyle = '#000';
    ctx.font = `bold 23px ${FONT}`;
    ctx.textBaseline = 'top';
    ctx.textAlign = 'left';
    for (const v of xLabelled) {
      const t = String(v);
      const w = ctx.measureText(t).width;
      let left = xs.getPixelForValue(v) - w / 2;
      if (left + w > chart.width - 3) left = chart.width - 3 - w;
      ctx.fillText(t, left, chart.chartArea.bottom + 8);
    }

    const ds = chart.data.datasets;
    const y = 659;
    ctx.font = `bold 20px ${FONT}`;
    ctx.textBaseline = 'middle';
    ctx.fillStyle = ds[0].backgroundColor;
    ctx.beginPath();
    ctx.arc(132, y, 2.4, 0, Math.PI * 2);
    ctx.fill();
    ctx.fillStyle = '#000';
    ctx.fillText(ds[0].label, 153, y);
    ctx.strokeStyle = ds[1].borderColor;
    ctx.lineWidth = 3;
    ctx.beginPath();
    ctx.moveTo(313, y);
    ctx.lineTo(341, y);
    ctx.stroke();
    ctx.fillText(ds[1].label, 348, y);
    ctx.fillStyle = ds[2].backgroundColor;
    ctx.beginPath();
    ctx.moveTo(518, y - 2.5);
    ctx.lineTo(524, y - 2.5);
    ctx.lineTo(521, y + 2.5);
    ctx.closePath();
    ctx.fill();
    ctx.fillStyle = '#000';
    ctx.fillText(ds[2].label, 542, y);
    ctx.restore();
  },
};

export default function App() {
  const ref = useRef<HTMLCanvasElement | null>(null);

  useEffect(() => {
    if (!ref.current) return;
    const chart = new Chart(ref.current, {
      type: 'scatter',
      data: {
        datasets: [
          {
            label: seriesNames[0],
            data: toPoints(signalColumns),
            backgroundColor: '#0000ff',
            borderWidth: 0,
            pointStyle: 'circle',
            pointRadius: 3,
            order: 2,
          },
          {
            label: seriesNames[1],
            data: regressionX.map((x, i) => ({ x, y: regressionY[i] })),
            showLine: true,
            borderColor: '#00ff00',
            backgroundColor: '#00ff00',
            borderWidth: 3,
            pointRadius: 0,
            order: 0,
          },
          {
            label: seriesNames[2],
            data: [...toPoints(noiseColumns), ...toPoints(noiseDenseColumns)],
            backgroundColor: '#ff0000',
            borderWidth: 0,
            pointStyle: 'triangle',
            rotation: 180,
            pointRadius: 4.6,
            order: 1,
          },
        ],
      },
      options: {
        animation: false,
        responsive: false,
        events: [],
        layout: { padding: { left: 0, right: 23, top: 16, bottom: 117 } },
        plugins: { legend: { display: false }, tooltip: { enabled: false } },
        scales: {
          x: {
            type: 'logarithmic',
            min: 10,
            max: 1000,
            afterFit: (s: any) => {
              s.height = 54;
              s.paddingLeft = 0;
              s.paddingRight = 0;
            },
            ticks: {
              autoSkip: false,
              maxRotation: 0,
              padding: 3,
              color: 'rgba(0,0,0,0)',
              font: { family: FONT, size: 23, weight: 'bold' },
              callback: (v: any) => (xLabelled.includes(Number(v)) ? String(v) : ''),
            },
            grid: { color: '#000', lineWidth: 1, tickLength: 5, tickColor: '#000' },
            border: {
              color: '#000',
              width: 2,
              dash: (c: any) => (c.tick && !isDecade(c.tick.value) ? [6, 4] : []),
            },
            title: {
              display: true,
              text: 'Distance (km)',
              color: '#000',
              font: { family: FONT, size: 24, weight: 'bold', lineHeight: 1.2 },
              padding: { top: 0, bottom: 0 },
            },
          },
          y: {
            min: yMin,
            max: yMax,
            afterFit: (s: any) => {
              s.width = 91;
              s.paddingTop = 0;
              s.paddingBottom = 0;
            },
            ticks: {
              stepSize: yStep,
              padding: 14,
              color: '#000',
              font: { family: FONT, size: 21, weight: 'bold' },
              callback: (v: any) => (Number(v) % 20 === 0 ? String(v) : ''),
            },
            grid: {
              color: '#000',
              lineWidth: 1,
              tickLength: 6,
              tickColor: (c: any) => (c.tick && c.tick.value % 20 === 0 ? '#000' : 'rgba(0,0,0,0)'),
            },
            border: { color: '#000', width: 2 },
            title: {
              display: true,
              text: 'dB microvolts / meter',
              color: '#000',
              font: { family: FONT, size: 21, weight: 'bold', lineHeight: 1.2 },
              padding: { top: 7, bottom: 0 },
            },
          },
        },
      },
      plugins: [decorPlugin],
    } as any);
    return () => chart.destroy();
  }, []);

  return (
    <div style={{ position: 'fixed', left: 0, top: 0, width: 894, height: 673, background: '#fff' }}>
      <canvas ref={ref} width={894} height={673} />
    </div>
  );
}
